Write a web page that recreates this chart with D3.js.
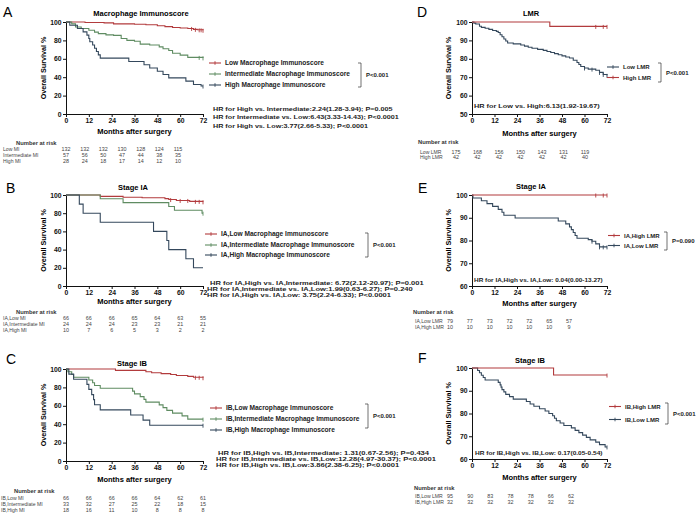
<!DOCTYPE html>
<html><head><meta charset="utf-8">
<script src="https://cdn.jsdelivr.net/npm/d3@7"></script>
<style>
body{margin:0;background:#fff}
svg text{font-family:"Liberation Sans",Arial,sans-serif}
</style>
</head><body>
<svg id="chart" width="700" height="518"></svg>
<script>
// ---------- DATA ----------
const monthTicks = [0,12,24,36,48,60,72];
const pctTicksFull = [0,20,40,60,80,100];
const pctTicksD = [50,60,70,80,90,100];
const pctTicksEF = [60,70,80,90,100];

// Panel A
const aTitle = "Macrophage Immunoscore";
const aNames = ["Low Macrophage Immunoscore","Intermediate Macrophage Immunoscore","High Macrophage Immunoscore"];
const aLow  = [[0,100],[10,99.5],[20,99],[25,98],[36,97.5],[42,97],[48,96],[52,95],[56,94],[60,93.5],[64,93],[67,92],[69,91.5],[72,91]];
const aInt  = [[0,100],[3,98],[5,94.6],[8,93],[12,91],[15,89],[17,87.4],[21,86],[25,85.5],[29,82],[32,80],[36,79],[39,76],[44,75],[49,73],[51,71],[54,69],[56,66],[60,64],[64,61.5],[72,61]];
const aHigh = [[0,100],[2,96.4],[6,92.9],[9,89.3],[11,85.7],[12,82.1],[12.5,78.6],[14,75],[15,71.4],[16,67.9],[17,64.3],[18,60.7],[33,57.1],[41,53.6],[44,50],[48,46.4],[51,42.9],[54,39.3],[63,35.7],[67,32.1],[71,30.4],[72,30.4]];
const aCens = [[66,68,70,71,72],[70,72],[72]];
const aHR = ["HR for High vs. Intermediate:2.24(1.28-3.94); P=0.005",
             "HR for Intermediate vs. Low:6.43(3.33-14.43); P<0.0001",
             "HR for High vs. Low:3.77(2.66-5.33); P<0.0001"];
const aP = "P<0.001";
const aRiskLabels = ["Low MI","Intermediate MI","High MI"];
const aRiskLow  = [132,132,132,130,128,124,115];
const aRiskInt  = [57,56,50,47,44,38,35];
const aRiskHigh = [28,24,18,17,14,12,10];

// Panel B
const bTitle = "Stage IA";
const bNames = ["IA,Low Macrophage Immunoscore","IA,Intermediate Macrophage Immunoscore","IA,High Macrophage Immunoscore"];
const bLow  = [[0,100],[18,98.5],[30,97.5],[40,97],[52,96],[54,95],[58,94],[65,93],[72,92.5]];
const bInt  = [[0,100],[18,95.8],[30,91.6],[54,87.4],[57,83.2],[71.5,80],[72,80]];
const bHigh = [[0,100],[7,90],[9,80],[18,70],[46,60],[53,50],[54,40],[63,30],[67,20],[72,20]];
const bCens = [[55,60,64,68,70,72],[72],[]];
const bHR = ["HR for IA,High vs. IA,Intermediate: 6.72(2.12-20.97); P=0.001",
             "HR for IA,Intermediate vs. IA,Low:1.99(0.63-6.27); P=0.240",
             "HR for IA,High vs. IA,Low: 3.75(2.24-6.33); P<0.0001"];
const bP = "P<0.001";
const bRiskLabels = ["IA,Low MI","IA,Intermediate MI","IA,High MI"];
const bRiskLow  = [66,66,66,65,64,63,55];
const bRiskInt  = [24,24,24,23,23,21,21];
const bRiskHigh = [10,7,6,5,3,2,2];

// Panel C
const cTitle = "Stage IB";
const cNames = ["IB,Low Macrophage Immunoscore","IB,Intermediate Macrophage Immunoscore","IB,High Macrophage Immunoscore"];
const cLow  = [[0,100],[26,98.5],[42,97],[45,96],[50,95],[55,94],[58,93],[64,92],[67,91],[72,90.5]];
const cInt  = [[0,100],[1,97],[3,94],[4,91],[12,88],[14,85],[15,82],[18,79],[35,76],[36,73],[39,70],[41,67],[42,64],[49,61],[51,58],[53,55],[56,52],[61,49],[64,45.5],[72,45.5]];
const cHigh = [[0,100],[1.5,94.4],[4,88.9],[11,83.3],[12,77.8],[13.5,72.2],[14.5,66.7],[15,61.1],[18,55.6],[34,50],[40.5,44.4],[44,38.9],[72,38.9]];
const cCens = [[68,70,72],[72],[72]];
const cHR = ["HR for IB,High vs. IB,Intermediate:  1.31(0.67-2.56); P=0.434",
             "HR for IB,Intermediate vs. IB,Low:12.28(4.97-30.37); P<0.0001",
             "HR for IB,High vs. IB,Low:3.86(2.38-6.25); P<0.0001"];
const cP = "P<0.001";
const cRiskLabels = ["IB,Low MI","IB,Intermediate MI","IB,High MI"];
const cRiskLow  = [66,66,66,66,64,62,61];
const cRiskInt  = [33,32,27,25,22,18,15];
const cRiskHigh = [18,16,11,10,8,8,8];

// Panel D
const dTitle = "LMR";
const dNames = ["Low LMR","High LMR"];
const dLow  = [[0,100],[1,99.4],[2,98.9],[4,97.7],[5,97.1],[7,96.6],[9,96],[11,95.4],[13,94.9],[14,94.3],[15,93.1],[16,92],[17,90.8],[18,89.7],[19,88.6],[22,88.1],[26,87.5],[28,86.9],[30,86.3],[32,85.7],[35,85.1],[38,84.6],[40,84],[42,83.4],[44,82.8],[46,82.2],[48,81.6],[50,81],[52,80.4],[54,79.2],[56,78],[57,76.9],[58,75.8],[60,75],[62,74.4],[66,73.8],[68,72.6],[70,71.5],[72,71]];
const dHigh = [[0,100],[41.5,97.6],[72,97.6]];
const dCens = [[60,64,68,70,72],[66,70,72]];
const dHR = ["HR for Low vs. High:6.13(1.92-19.67)"];
const dP = "P<0.001";
const dRiskLabels = ["Low LMR","High LMR"];
const dRiskLow  = [175,168,156,150,143,131,119];
const dRiskHigh = [42,42,42,42,42,42,40];

// Panel E
const eTitle = "Stage IA";
const eNames = ["IA,High LMR","IA,Low LMR"];
const eLow  = [[0,100],[0.5,98.7],[5,97.5],[8,96.2],[11,95],[14,93.7],[16,92.4],[17,91.1],[23,89.9],[46,88.6],[50,87.3],[52,86],[53,84.8],[54,83.5],[55,82.2],[56,81],[62,80.4],[64,79.7],[66,78.5],[68,77.2],[72,77.2]];
const eHigh = [[0,100],[72,100]];
const eCens = [[64,68,70,72],[66,70,72]];
const eHR = ["HR for IA,High vs. IA,Low: 0.04(0.00-13.27)"];
const eP = "P=0.090";
const eRiskLabels = ["IA,Low LMR","IA,High LMR"];
const eRiskLow  = [79,77,73,72,72,65,57];
const eRiskHigh = [10,10,10,10,10,10,9];

// Panel F
const fTitle = "Stage IB";
const fNames = ["IB,High LMR","IB,Low LMR"];
const fLow  = [[0,100],[3,98.9],[4,97.9],[5,96.8],[6,95.8],[7,94.7],[14,93.7],[15,92.6],[15.5,91.6],[16,90.5],[17,89.5],[18,88.4],[20,87.4],[22,86.3],[29,85.3],[31,84.2],[33,83.2],[36,82.1],[39,81.1],[41,80],[43,79],[44,77.9],[45,76.8],[47,75.8],[49,74.7],[53,73.7],[55,72.6],[57,71.6],[59,70.5],[61,69.5],[63,68.4],[66,67.4],[68,66.3],[71,65.3],[72,65.3]];
const fHigh = [[0,100],[43.5,96.9],[72,96.9]];
const fCens = [[72],[72]];
const fHR = ["HR for IB,High vs. IB,Low: 0.17(0.05-0.54)"];
const fP = "P<0.001";
const fRiskLabels = ["IB,Low LMR","IB,High LMR"];
const fRiskLow  = [95,90,83,78,78,66,62];
const fRiskHigh = [32,32,32,32,32,32,32];

// ---------- STYLE ----------
const RED = "#b23b3d", GREEN = "#5f8c62", DARK = "#34485c";

const svg = d3.select("#chart");

function stepVal(series, t){
  let v = series[0][1];
  for (const p of series){ if (p[0] <= t) v = p[1]; }
  return v;
}

function drawPanel(P){
  const g = svg.append("g");
  const x = d3.scaleLinear().domain([0,72]).range(P.xr);
  const y = d3.scaleLinear().domain(P.ydom).range(P.yr);

  g.append("text").attr("x",P.letter[0]).attr("y",P.letter[1]).attr("font-size",14).text(P.key);
  g.append("text").attr("x",P.title[0]).attr("y",P.title[1]).attr("text-anchor","middle")
    .attr("font-size",7.5).attr("font-weight","bold").text(P.titleText);

  const ay = g.append("g").attr("transform",`translate(${P.xr[0]},0)`)
    .call(d3.axisLeft(y).tickValues(P.yticks).tickSize(3).tickSizeOuter(0).tickPadding(1.5));
  const ax = g.append("g").attr("transform",`translate(0,${P.yr[0]})`)
    .call(d3.axisBottom(x).tickValues(monthTicks).tickSize(3).tickSizeOuter(0).tickPadding(1.5));
  [ax,ay].forEach(a=>{
    a.selectAll("path,line").attr("stroke","#111").attr("stroke-width",1);
    a.selectAll("text").attr("font-size",6.8).attr("font-weight","bold").attr("fill","#111")
      .style("font-family","'Liberation Sans',Arial,sans-serif");
  });

  g.append("text").attr("transform",`translate(${P.ylabX},${(P.yr[0]+P.yr[1])/2}) rotate(-90)`)
    .attr("text-anchor","middle").attr("font-size",7.2).attr("font-weight","bold").text("Overall Survival %");
  g.append("text").attr("x",(P.xr[0]+P.xr[1])/2).attr("y",P.xlabY).attr("text-anchor","middle")
    .attr("font-size",7.5).attr("font-weight","bold").text("Months after surgery");

  const line = d3.line().x(d=>x(d[0])).y(d=>y(d[1])).curve(d3.curveStepAfter);
  P.series.forEach((s)=>{
    g.append("path").datum(s.data).attr("d",line).attr("fill","none")
      .attr("stroke",s.color).attr("stroke-width",1.1);
    (s.cens||[]).forEach(t=>{
      const yy = y(stepVal(s.data,t));
      g.append("line").attr("x1",x(t)).attr("x2",x(t)).attr("y1",yy-1.5).attr("y2",yy+2.5)
        .attr("stroke",s.color).attr("stroke-width",0.9);
    });
  });

  P.legend.forEach((L,i)=>{
    const ly = P.legY[i];
    g.append("line").attr("x1",P.legX).attr("x2",P.legX+12).attr("y1",ly).attr("y2",ly)
      .attr("stroke",L.color).attr("stroke-width",1.1);
    g.append("line").attr("x1",P.legX+6).attr("x2",P.legX+6).attr("y1",ly-1.8).attr("y2",ly+1.8)
      .attr("stroke",L.color).attr("stroke-width",0.9);
    g.append("text").attr("x",P.legX+16).attr("y",ly+2.2).attr("font-size",P.legSize).attr("font-weight","bold")
      .attr("fill","#222").text(L.name);
  });
  const b = P.bracket;
  g.append("path").attr("d",`M${b.x-3},${b.y0}H${b.x}V${b.y1}H${b.x-3}`).attr("fill","none")
    .attr("stroke","#333").attr("stroke-width",0.7);
  g.append("text").attr("x",b.x+5).attr("y",(b.y0+b.y1)/2+2).attr("font-size",6).attr("font-weight","bold")
    .attr("fill","#222").text(P.pText);

  P.hr.forEach((t,i)=>{
    g.append("text").attr("transform",`translate(${P.hrX[i]},${P.hrY[i]}) scale(${P.hrStretch},1)`)
      .attr("font-size",P.hrSize).attr("font-weight","bold").attr("fill","#222").text(t);
  });

  const rx = d3.scalePoint().domain(monthTicks).range(P.riskRange);
  g.append("text").attr("x",P.riskHead[0]).attr("y",P.riskHead[1]).attr("font-size",5.8).attr("font-weight","bold")
    .attr("fill","#333").text("Number at risk");
  P.risk.forEach((r,i)=>{
    const ry = P.riskY[i];
    g.append("text").attr("x",P.riskLabX).attr("y",ry).attr("font-size",5.1).attr("fill","#444").text(r.label);
    g.selectAll(null).data(r.values).enter().append("text")
      .attr("x",(d,j)=>rx(monthTicks[j])).attr("y",ry).attr("text-anchor","middle")
      .attr("font-size",5.4).attr("fill","#444").text(d=>d);
  });
}

// ---------- PANELS ----------
drawPanel({key:"A", letter:[3,17], titleText:aTitle, title:[141,16],
  xr:[66,203], yr:[114,22], ydom:[0,100], yticks:pctTicksFull, ylabX:46, xlabY:134,
  series:[{data:aLow,color:RED,cens:aCens[0]},{data:aInt,color:GREEN,cens:aCens[1]},{data:aHigh,color:DARK,cens:aCens[2]}],
  legend:[{name:aNames[0],color:RED},{name:aNames[1],color:GREEN},{name:aNames[2],color:DARK}],
  legX:209, legY:[63,74,85], legSize:6.6, bracket:{x:361,y0:63,y1:87}, pText:aP,
  hr:aHR, hrX:[213,213,213], hrY:[110.5,119,127.5], hrSize:6, hrStretch:1.2,
  riskHead:[16,145], riskLabX:3, riskRange:[66,178], riskY:[151,157,163],
  risk:[{label:aRiskLabels[0],values:aRiskLow},{label:aRiskLabels[1],values:aRiskInt},{label:aRiskLabels[2],values:aRiskHigh}]
});
drawPanel({key:"B", letter:[6,193], titleText:bTitle, title:[133,190],
  xr:[66,203], yr:[286,195], ydom:[0,100], yticks:pctTicksFull, ylabX:46, xlabY:304,
  series:[{data:bLow,color:RED,cens:bCens[0]},{data:bInt,color:GREEN,cens:bCens[1]},{data:bHigh,color:DARK,cens:bCens[2]}],
  legend:[{name:bNames[0],color:RED},{name:bNames[1],color:GREEN},{name:bNames[2],color:DARK}],
  legX:205, legY:[234,245,255], legSize:6.6, bracket:{x:368,y0:233,y1:257}, pText:bP,
  hr:bHR, hrX:[210,207,207], hrY:[284.5,290.5,296.5], hrSize:5.8, hrStretch:1.3,
  riskHead:[16,313.5], riskLabX:3, riskRange:[66,203], riskY:[319.5,325.5,331.5],
  risk:[{label:bRiskLabels[0],values:bRiskLow},{label:bRiskLabels[1],values:bRiskInt},{label:bRiskLabels[2],values:bRiskHigh}]
});
drawPanel({key:"C", letter:[6,364], titleText:cTitle, title:[132,366],
  xr:[66,203], yr:[461,369], ydom:[0,100], yticks:pctTicksFull, ylabX:46, xlabY:482,
  series:[{data:cLow,color:RED,cens:cCens[0]},{data:cInt,color:GREEN,cens:cCens[1]},{data:cHigh,color:DARK,cens:cCens[2]}],
  legend:[{name:cNames[0],color:RED},{name:cNames[1],color:GREEN},{name:cNames[2],color:DARK}],
  legX:210, legY:[408,419,430], legSize:6.6, bracket:{x:368,y0:404,y1:428}, pText:cP,
  hr:cHR, hrX:[218,216,216], hrY:[454.5,460.5,466.5], hrSize:5.8, hrStretch:1.31,
  riskHead:[14,493], riskLabX:1, riskRange:[66,203], riskY:[500,506,512],
  risk:[{label:cRiskLabels[0],values:cRiskLow},{label:cRiskLabels[1],values:cRiskInt},{label:cRiskLabels[2],values:cRiskHigh}]
});
drawPanel({key:"D", letter:[417,17], titleText:dTitle, title:[531,16],
  xr:[472,607], yr:[114,22], ydom:[50,100], yticks:pctTicksD, ylabX:451, xlabY:136,
  series:[{data:dLow,color:DARK,cens:dCens[0]},{data:dHigh,color:RED,cens:dCens[1]}],
  legend:[{name:dNames[0],color:DARK},{name:dNames[1],color:RED}],
  legX:607, legY:[67,77.5], legSize:6, bracket:{x:661,y0:63,y1:82}, pText:dP,
  hr:dHR, hrX:[474], hrY:[108], hrSize:5.9, hrStretch:1.24,
  riskHead:[418,144], riskLabX:420, riskRange:[456,585], riskY:[153.5,159],
  risk:[{label:dRiskLabels[0],values:dRiskLow},{label:dRiskLabels[1],values:dRiskHigh}]
});
drawPanel({key:"E", letter:[418,193], titleText:eTitle, title:[531,189],
  xr:[472,607], yr:[286,195], ydom:[60,100], yticks:pctTicksEF, ylabX:451, xlabY:306,
  series:[{data:eLow,color:DARK,cens:eCens[0]},{data:eHigh,color:RED,cens:eCens[1]}],
  legend:[{name:eNames[0],color:RED},{name:eNames[1],color:DARK}],
  legX:608, legY:[235.5,245.5], legSize:6, bracket:{x:667,y0:232,y1:250}, pText:eP,
  hr:eHR, hrX:[474], hrY:[282], hrSize:5.9, hrStretch:1.09,
  riskHead:[413,313.5], riskLabX:415, riskRange:[450,569], riskY:[323,328.5],
  risk:[{label:eRiskLabels[0],values:eRiskLow},{label:eRiskLabels[1],values:eRiskHigh}]
});
drawPanel({key:"F", letter:[418,363], titleText:fTitle, title:[530,363],
  xr:[472,607], yr:[459,368], ydom:[60,100], yticks:pctTicksEF, ylabX:451, xlabY:480,
  series:[{data:fLow,color:DARK,cens:fCens[0]},{data:fHigh,color:RED,cens:fCens[1]}],
  legend:[{name:fNames[0],color:RED},{name:fNames[1],color:DARK}],
  legX:609, legY:[406.5,419.5], legSize:6, bracket:{x:668,y0:403,y1:424}, pText:fP,
  hr:fHR, hrX:[475], hrY:[455], hrSize:5.9, hrStretch:1.11,
  riskHead:[414,490], riskLabX:415, riskRange:[450,571], riskY:[498,504],
  risk:[{label:fRiskLabels[0],values:fRiskLow},{label:fRiskLabels[1],values:fRiskHigh}]
});
</script>
</body></html>
